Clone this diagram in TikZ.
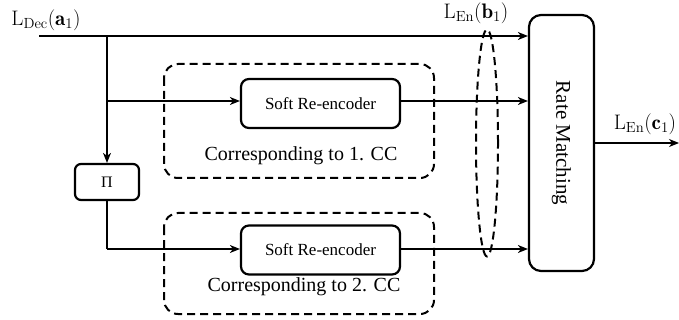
\RequirePackage{fix-cm}
\documentclass[tikz,border=0pt]{standalone}
\usepackage{amsmath}
\usepackage{fontspec}
\newfontfamily\tnr{Liberation Serif}
\usetikzlibrary{arrows.meta,shapes.geometric}
\tikzset{
  conn/.style={line width=1.4pt,-{Stealth[length=10pt,width=8pt,inset=3pt]}},
  plainline/.style={line width=1.4pt},
  blk/.style={draw,line width=2.2pt,rounded corners=8pt,inner sep=0pt},
  grp/.style={draw,line width=2pt,dash pattern=on 8pt off 5pt,rounded corners=14pt},
  lbl/.style={inner sep=0pt,font=\fontsize{21}{25}\selectfont},
}
\begin{document}
\begin{tikzpicture}[x=1pt,y=-1pt]
\useasboundingbox (0,0) rectangle (679,320);
% dashed groups
\draw[grp] (164,64) rectangle (434,178);
\draw[grp] (164,213) rectangle (434,314);
\node[inner sep=0pt,font=\tnr\fontsize{20}{24}\selectfont] (t1) at (301,156) {Corresponding to 1. CC};
\node[inner sep=0pt,font=\tnr\fontsize{20}{24}\selectfont] (t2) at (304,287) {Corresponding to 2. CC};
% blocks
\node[blk,minimum width=159pt,minimum height=49pt,font=\tnr\fontsize{17}{20}\selectfont] (sre1) at (320.5,103.5) {Soft Re-encoder};
\node[blk,minimum width=159pt,minimum height=49pt,font=\tnr\fontsize{17}{20}\selectfont] (sre2) at (320.5,250) {Soft Re-encoder};
\node[blk,rounded corners=6pt,minimum width=64pt,minimum height=36pt,font=\tnr\fontsize{16}{19}\selectfont] (pi) at (107,182) {Π};
\node[blk,rounded corners=12pt,minimum width=65pt,minimum height=256pt] (rm) at (561.5,143) {};
\node[rotate=-90,inner sep=0pt,font=\tnr\fontsize{21}{25}\selectfont] (rmt) at (rm.center) {Rate Matching};
% coordinates
\coordinate (in) at (39,36);
\coordinate (j1) at (107,36);
\coordinate (j2) at (107,101);
\coordinate (j3) at (107,249);
\coordinate (out) at (679,143);
% connectors
\draw[conn] (in) -- (in -| rm.west);
\draw[conn] (j1) -- (pi.north);
\draw[conn] (j2) -- (j2 -| sre1.west);
\draw[plainline] (pi.south) -- (j3);
\draw[conn] (j3) -- (j3 -| sre2.west);
\draw[conn] (sre1.east |- j2) -- (j2 -| rm.west);
\draw[conn] (sre2.east |- j3) -- (j3 -| rm.west);
\draw[conn] (rm.east |- out) -- (out);
% ellipse
\node[draw,ellipse,line width=2pt,dash pattern=on 8pt off 5pt,minimum width=22pt,minimum height=227pt,inner sep=0pt] (ell) at (487,143) {};
% labels
\node[lbl] (la) at (46,20) {$\mathrm{L}_{\mathrm{Dec}}(\mathbf{a}_1)$};
\node[lbl] (lb) at (476,13) {$\mathrm{L}_{\mathrm{En}}(\mathbf{b}_1)$};
\node[lbl] (lc) at (645,124) {$\mathrm{L}_{\mathrm{En}}(\mathbf{c}_1)$};
\end{tikzpicture}
\end{document}
